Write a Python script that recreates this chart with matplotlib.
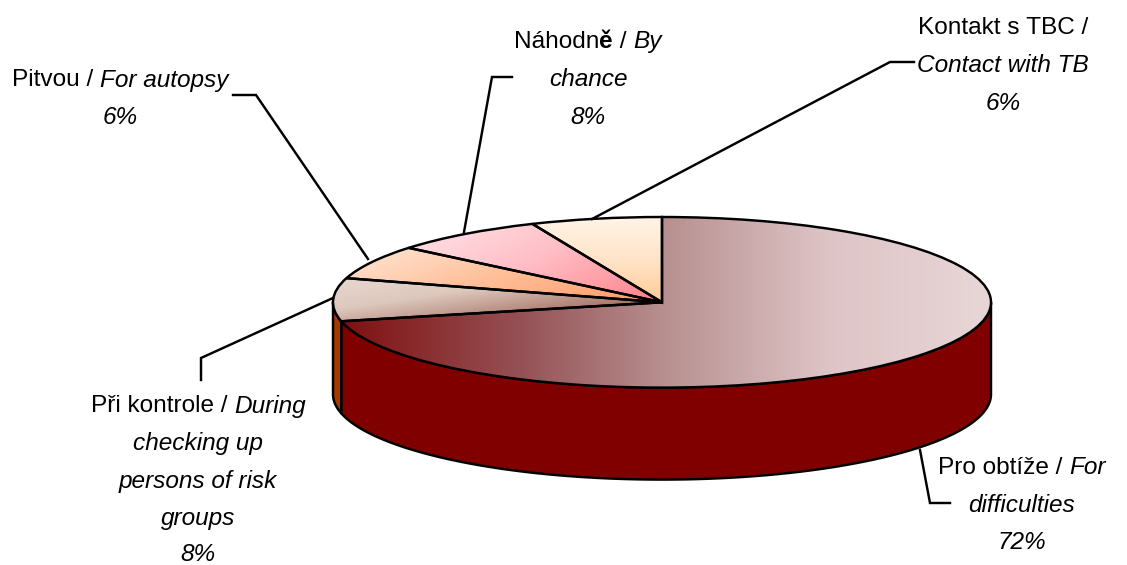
import numpy as np
import matplotlib
matplotlib.use("Agg")
import matplotlib.pyplot as plt
from matplotlib.colors import LinearSegmentedColormap
from matplotlib import font_manager as fm

# --- data (clockwise from 12 o'clock) ---
slice_names = ["Pro obtíže", "Při kontrole", "Pitvou", "Náhodně", "Kontakt s TBC"]
slice_values = [71.5, 8.15, 6.45, 7.55, 6.45]
percent_labels = ["72%", "8%", "6%", "8%", "6%"]

# --- styles ---
W, H = 1127, 565
CX, CY, RX, RY, DEPTH = 662, 302.3, 329, 85.3, 92
wall_colors = ["#800000", "#A33A00", "#A33A00", "#A33A00", "#A33A00"]
gradients = [
    ([(0, "#801010"), (0.27, "#945054"), (0.5, "#B89090"), (0.75, "#DEC4C6"), (1, "#E8D6D6")], (1, 0)),
    ([(0, "#E8D8D0"), (0.35, "#DEC8BE"), (0.76, "#A87568"), (1, "#A87568")], (1, 0.9)),
    ([(0, "#FFE8D8"), (0.5, "#FFBE98"), (1, "#FF9966")], (1, 0.5)),
    ([(0, "#FFE6EA"), (0.5, "#FFBCC4"), (1, "#FF8088")], (1, 0.6)),
    ([(0, "#FFF4E8"), (0.5, "#FFE4C8"), (1, "#FFCC99")], (0, 1)),
]
names = {f.name for f in fm.fontManager.ttflist}
FONT = ["Liberation Sans Narrow", "Liberation Sans"] if "Liberation Sans Narrow" in names else ["Liberation Sans"]
FS = 17.6
LW = 1.75

fig = plt.figure(figsize=(W / 100, H / 100), dpi=100, facecolor="white")
ax = fig.add_axes([(CX - RX) / W, 1 - (CY + RY) / H, 2 * RX / W, 2 * RY / H])
wedges, _ = ax.pie(slice_values, startangle=90, counterclock=False, radius=1,
                   wedgeprops=dict(edgecolor="black", linewidth=LW, facecolor="none", zorder=3))

# side walls, taken from the slice angles (only the front half of the rim shows)
depth_u = DEPTH / RY
for w, col in zip(wedges, wall_colors):
    for off in (-360, 0, 360):
        a, b = max(w.theta1, 180 + off), min(w.theta2, 360 + off)
        if b <= a:
            continue
        th = np.radians(np.linspace(a, b, 200))
        xs, ys = np.cos(th), np.sin(th)
        ax.fill(np.r_[xs, xs[::-1]], np.r_[ys, ys[::-1] - depth_u], facecolor=col,
                edgecolor="black", linewidth=LW, zorder=1, clip_on=False, joinstyle="round")

# gradient fills clipped to each wedge
for w, (stops, (dx, dy)) in zip(wedges, gradients):
    ext = w.get_path().get_extents(w.get_patch_transform())
    u, v = np.meshgrid(np.linspace(0, 1, 500), np.linspace(0, 1, 300))
    t = dx * u + dy * v
    t = (t - t.min()) / (t.max() - t.min())
    cmap = LinearSegmentedColormap.from_list("g", stops)
    im = ax.imshow(t, cmap=cmap, extent=(ext.x0, ext.x1, ext.y0, ext.y1), origin="upper",
                   aspect="auto", zorder=2, vmin=0, vmax=1, interpolation="bilinear")
    im.set_clip_path(w)
ax.set_xlim(-1, 1)
ax.set_ylim(-1, 1)
ax.set_aspect("auto")
ax.axis("off")
for w in wedges:
    w.set_clip_on(False)

# overlay in pixel coordinates for labels and leader lines
ov = fig.add_axes([0, 0, 1, 1], facecolor="none")
ov.set_xlim(0, W)
ov.set_ylim(H, 0)
ov.axis("off")

leaders = [
    ([920, 930, 950], [450, 503, 503]),
    ([333, 201, 201], [298, 358, 380]),
    ([368, 256, 233], [259, 95, 95]),
    ([464, 492, 512], [232, 77, 77]),
    ([592, 890, 914], [219, 62, 62]),
]
for xs, ys in leaders:
    ov.plot(xs, ys, color="black", lw=LW, solid_joinstyle="miter", zorder=0)

R = "normal"; I = "italic"; B = "bold"
label_blocks = [
    (1022, [465, 503, 540], [[("Pro obtíže / ", R), ("For", I)], [("difficulties", I)], [(percent_labels[0], I)]]),
    (198, [404, 441, 479, 516, 552], [[("Při kontrole / ", R), ("During", I)], [("checking up", I)],
                                      [("persons of risk", I)], [("groups", I)], [(percent_labels[1], I)]]),
    (120, [78, 115], [[("Pitvou / ", R), ("For autopsy", I)], [(percent_labels[2], I)]]),
    (588, [39, 77, 115], [[("Náhodn", R), ("ě", B), (" / ", R), ("By", I)], [("chance", I)], [(percent_labels[3], I)]]),
    (1003, [26, 63, 101], [[("Kontakt s TBC /", R)], [("Contact with TB", I)], [(percent_labels[4], I)]]),
]
fig.canvas.draw()
rend = fig.canvas.get_renderer()
for cx, ys, lines in label_blocks:
    for y, segs in zip(ys, lines):
        arts = []
        for s, style in segs:
            weight = "bold" if style == B else "normal"
            fst = "italic" if style == I else "normal"
            arts.append(ov.text(0, y, s.replace(" ", "\u00a0"), family=FONT, fontsize=FS, style=fst,
                                weight=weight, va="center_baseline", ha="left", color="black"))
        widths = [a.get_window_extent(rend).width for a in arts]
        x = cx - sum(widths) / 2
        for a, wd in zip(arts, widths):
            a.set_x(x)
            x += wd

fig.savefig("out.png", dpi=100, facecolor="white")
